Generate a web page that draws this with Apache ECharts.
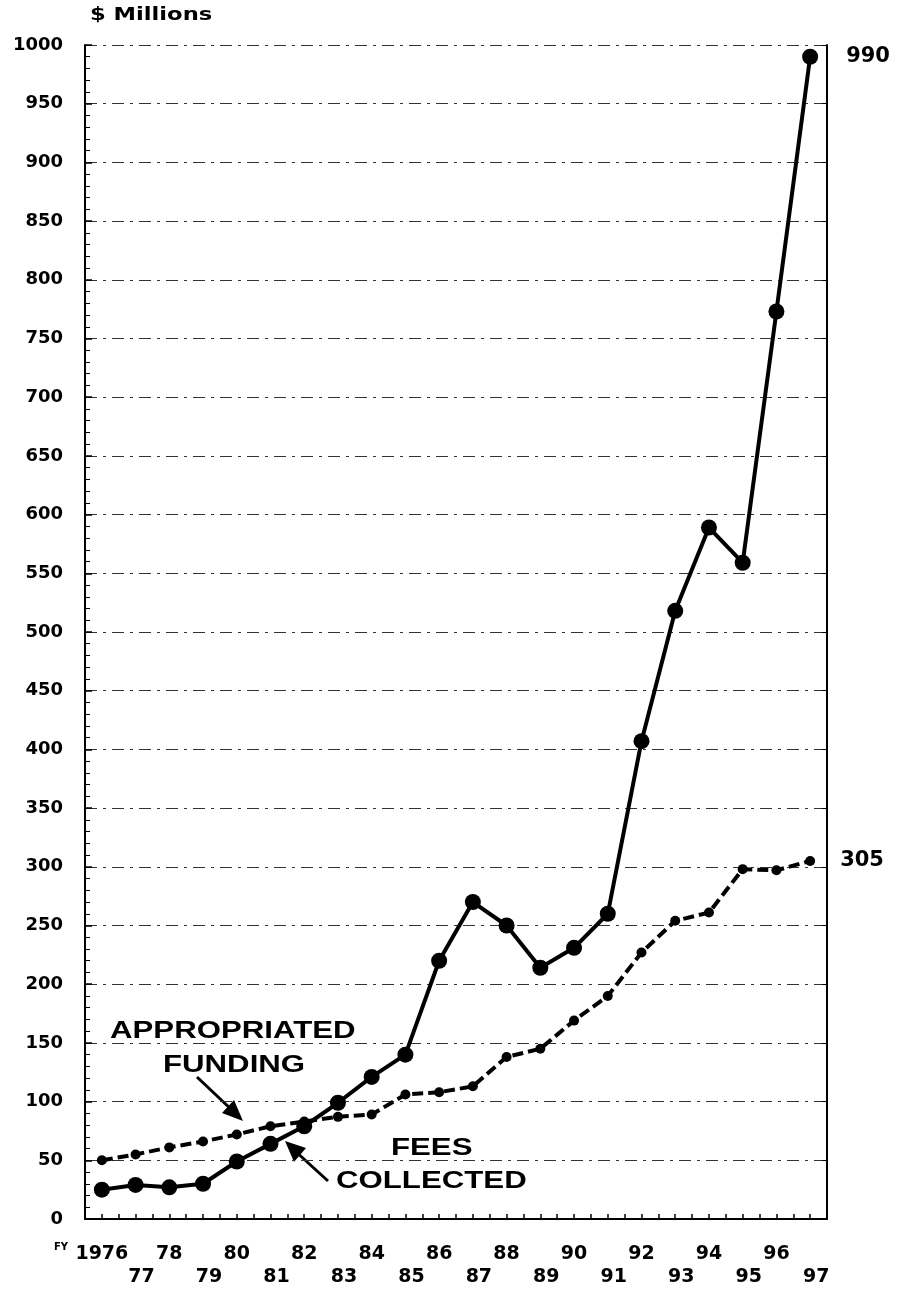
<!DOCTYPE html>
<html>
<head>
<meta charset="utf-8">
<title>Fees vs appropriated funding</title>
<script src="https://cdn.jsdelivr.net/npm/echarts@6/dist/echarts.min.js"></script>
<style>
  html, body { margin: 0; padding: 0; background: #fff; }
  #main { width: 898px; height: 1292px; }
</style>
</head>
<body>
<div id="main"></div>
<script>
// fiscal years
var years = [1976, 1977, 1978, 1979, 1980, 1981, 1982, 1983, 1984, 1985, 1986,
             1987, 1988, 1989, 1990, 1991, 1992, 1993, 1994, 1995, 1996, 1997];
// $ millions
var feesCollected = [25, 29, 27, 30, 49, 64, 79, 99, 121, 140, 220,
                     270, 250, 214, 231, 260, 407, 518, 589, 559, 773, 990];
var appropriated = [50, 55, 61, 66, 72, 79, 83, 87, 89, 106, 108,
                    113, 138, 145, 169, 190, 227, 254, 261, 298, 297, 305];

var FONT = '"DejaVu Sans", Arial, sans-serif';
var NOTE_FONT = 'bold 24px "Liberation Sans", Arial, sans-serif';

function pairs(vals) {
  return years.map(function (y, i) { return [y, vals[i]]; });
}

var chart = echarts.init(document.getElementById('main'));

var gridLine = { color: '#333', width: 1, type: [12, 6, 3, 6] };

var option = {
  backgroundColor: '#fff',
  animation: false,
  grid: { left: 85, right: 71, top: 45, bottom: 73 },
  xAxis: {
    type: 'value',
    min: 1975.5,
    max: 1997.5,
    interval: 0.5,
    axisLine: { show: true, lineStyle: { color: '#000', width: 2 } },
    axisTick: { show: true, inside: true, length: 5, lineStyle: { color: '#000', width: 1.5 } },
    splitLine: { show: false },
    axisLabel: {
      margin: 24,
      fontFamily: FONT,
      fontWeight: 'bold',
      fontSize: 19,
      lineHeight: 23,
      color: '#000',
      formatter: function (v) {
        if (Math.abs(v - Math.round(v)) > 0.01) return '';
        var y = Math.round(v);
        if (y === 1976) return '1976';
        var s = String(y).slice(2);
        return y % 2 === 0 ? s : '\n{o|' + s + '}';
      },
      rich: {
        o: { padding: [0, 0, 0, 12], fontFamily: FONT, fontWeight: 'bold', fontSize: 19, lineHeight: 23, color: '#000' }
      }
    }
  },
  yAxis: [{
    type: 'value',
    min: 0,
    max: 1000,
    interval: 50,
    axisLine: { show: true, lineStyle: { color: '#000', width: 2 } },
    axisTick: { show: true, inside: true, length: 7, lineStyle: { color: '#000', width: 1.5 } },
    minorTick: { show: true, splitNumber: 5, length: 5, lineStyle: { color: '#000', width: 1 } },
    splitLine: { show: true, lineStyle: gridLine },
    axisLabel: {
      margin: 22,
      fontFamily: FONT,
      fontWeight: 'bold',
      fontSize: 18,
      color: '#000',
      formatter: function (v) { return String(v); }
    }
  }, {
    type: 'value',
    position: 'right',
    min: 0,
    max: 1000,
    interval: 50,
    axisLine: { show: true, lineStyle: { color: '#000', width: 2 } },
    axisTick: { show: true, inside: true, length: 5, lineStyle: { color: '#000', width: 1 } },
    axisLabel: { show: false },
    splitLine: { show: false }
  }],
  series: [{
    name: 'Appropriated funding',
    type: 'line',
    data: pairs(appropriated),
    symbol: 'circle',
    symbolSize: 10,
    itemStyle: { color: '#000' },
    lineStyle: { color: '#000', width: 4, type: [11, 5] },
    endLabel: {
      show: true,
      offset: [22, 0],
      fontFamily: FONT, fontWeight: 'bold', fontSize: 21, color: '#000',
      formatter: function (p) { return p.value[1]; }
    },
    z: 3
  }, {
    name: 'Fees collected',
    type: 'line',
    data: pairs(feesCollected),
    symbol: 'circle',
    symbolSize: 16,
    itemStyle: { color: '#000' },
    lineStyle: { color: '#000', width: 4 },
    endLabel: {
      show: true,
      offset: [28, 0],
      fontFamily: FONT, fontWeight: 'bold', fontSize: 21, color: '#000',
      formatter: function (p) { return p.value[1]; }
    },
    z: 4
  }],
  graphic: [
    { type: 'text', x: 90, y: 7, scaleX: 1.33,
      style: { text: '$ Millions', font: 'bold 17px ' + FONT, fill: '#000' } },
    { type: 'text', x: 54, y: 1242,
      style: { text: 'FY', font: 'bold 10px ' + FONT, fill: '#000' } },
    { type: 'text', x: 110, y: 1019, scaleX: 1.3,
      style: { text: 'APPROPRIATED', font: NOTE_FONT, fill: '#000' } },
    { type: 'text', x: 163, y: 1053, scaleX: 1.3,
      style: { text: 'FUNDING', font: NOTE_FONT, fill: '#000' } },
    { type: 'text', x: 391, y: 1136, scaleX: 1.3,
      style: { text: 'FEES', font: NOTE_FONT, fill: '#000' } },
    { type: 'text', x: 336, y: 1169, scaleX: 1.3,
      style: { text: 'COLLECTED', font: NOTE_FONT, fill: '#000' } },
    // arrows
    { type: 'line', shape: { x1: 197, y1: 1077, x2: 234, y2: 1112 },
      style: { stroke: '#000', lineWidth: 3 } },
    { type: 'polygon', shape: { points: [[243, 1121], [222, 1113], [234, 1100]] },
      style: { fill: '#000' } },
    { type: 'line', shape: { x1: 328, y1: 1181, x2: 294, y2: 1150 },
      style: { stroke: '#000', lineWidth: 3 } },
    { type: 'polygon', shape: { points: [[285, 1141], [306, 1148], [294, 1162]] },
      style: { fill: '#000' } }
  ]
};

chart.setOption(option);
</script>
</body>
</html>
